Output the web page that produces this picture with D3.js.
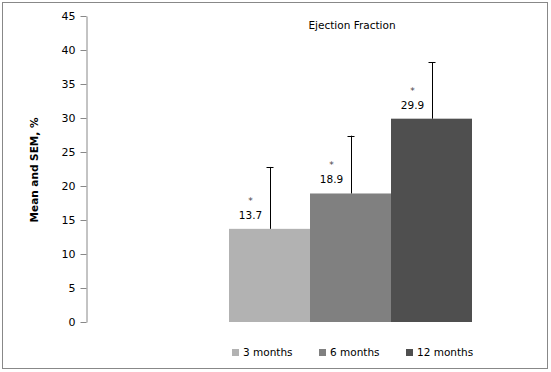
<!DOCTYPE html>
<html>
<head>
<meta charset="utf-8">
<script src="https://cdn.jsdelivr.net/npm/d3@7"></script>
<style>
  body { margin: 0; background: #fff; }
  text { font-family: "DejaVu Sans", Verdana, sans-serif; }
</style>
</head>
<body>
<svg id="chart" width="551" height="372"></svg>
<script>
var series = ['3 months', '6 months', '12 months'];
var means = [13.7, 18.9, 29.9];
var errTops = [22.8, 27.4, 38.2];
var labels = ['13.7', '18.9', '29.9'];
var colors = ['#b2b2b2', '#808080', '#4f4f4f'];
var yTicks = [0, 5, 10, 15, 20, 25, 30, 35, 40, 45];

var svg = d3.select('#chart');

// outer frame
svg.append('rect')
  .attr('x', 2.5).attr('y', 2.5)
  .attr('width', 545).attr('height', 366)
  .attr('fill', '#fff')
  .attr('stroke', '#888');

var y = d3.scaleLinear().domain([0, 45]).range([322, 16]);
var x = d3.scaleBand().domain(series).range([229, 472]).padding(0);

// y axis
var yAxis = d3.axisLeft(y).tickValues(yTicks).tickSize(6).tickSizeOuter(0);
var g = svg.append('g').attr('transform', 'translate(86.5,0)').call(yAxis);
g.select('.domain').attr('stroke', '#888');
g.selectAll('.tick line').attr('stroke', '#888');
g.selectAll('.tick text').attr('fill', '#000').attr('font-size', 11)
  .attr('font-family', '"DejaVu Sans", sans-serif').attr('x', -11);

// y label
svg.append('text')
  .attr('transform', 'translate(38,170) rotate(-90)')
  .attr('text-anchor', 'middle')
  .attr('font-size', 10.5).attr('font-weight', 'bold')
  .text('Mean and SEM, %');

// title
svg.append('text')
  .attr('x', 352).attr('y', 29)
  .attr('text-anchor', 'middle')
  .attr('font-size', 10.5)
  .text('Ejection Fraction');

// bars
svg.selectAll('rect.bar').data(series).enter().append('rect')
  .attr('class', 'bar')
  .attr('x', function(d) { return x(d); })
  .attr('width', x.bandwidth())
  .attr('y', function(d, i) { return y(means[i]); })
  .attr('height', function(d, i) { return y(0) - y(means[i]); })
  .attr('fill', function(d, i) { return colors[i]; });

// error bars
series.forEach(function(s, i) {
  var cx = Math.round(x(s) + x.bandwidth() / 2) + 0.5;
  svg.append('line')
    .attr('x1', cx).attr('x2', cx)
    .attr('y1', y(means[i])).attr('y2', y(errTops[i]))
    .attr('stroke', '#000');
  svg.append('line')
    .attr('x1', cx - 4).attr('x2', cx + 3)
    .attr('y1', Math.round(y(errTops[i])) + 0.5).attr('y2', Math.round(y(errTops[i])) + 0.5)
    .attr('stroke', '#000');

  var lx = x(s) + x.bandwidth() / 2 - 19;
  svg.append('text')
    .attr('x', lx).attr('y', y(means[i]) - 25)
    .attr('text-anchor', 'middle').attr('font-size', 9)
    .attr('fill', '#444')
    .text('*');
  svg.append('text')
    .attr('x', lx).attr('y', y(means[i]) - 10)
    .attr('text-anchor', 'middle').attr('font-size', 10.5)
    .text(labels[i]);
});

// legend
var legendX = [232, 319, 406];
series.forEach(function(s, i) {
  svg.append('rect')
    .attr('x', legendX[i]).attr('y', 349)
    .attr('width', 7).attr('height', 7)
    .attr('fill', colors[i]);
  svg.append('text')
    .attr('x', legendX[i] + 11).attr('y', 356)
    .attr('font-size', 10.5)
    .text(s);
});
</script>
</body>
</html>
